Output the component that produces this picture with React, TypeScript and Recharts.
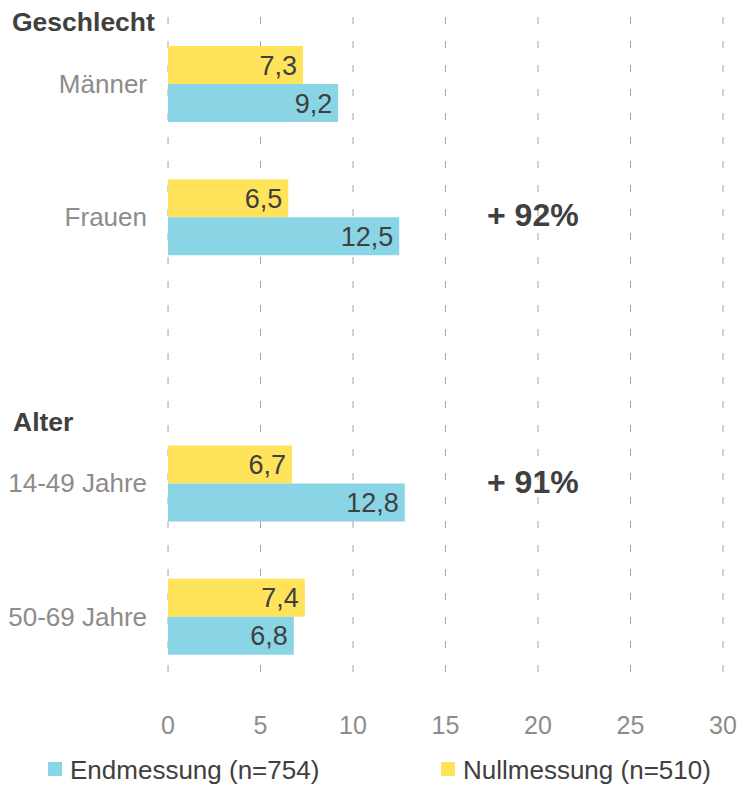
import { Bar, BarChart, CartesianGrid, LabelList, XAxis, YAxis } from "recharts";

const CATEGORIES = ["Männer", "Frauen", "", "14-49 Jahre", "50-69 Jahre"];
const NULLMESSUNG = [7.3, 6.5, null, 6.7, 7.4];
const ENDMESSUNG = [9.2, 12.5, null, 12.8, 6.8];
const X_TICKS = [0, 5, 10, 15, 20, 25, 30];

const YELLOW = "#FFE35B";
const BLUE = "#8AD5E5";
const DARK = "#404040";
const GREY = "#8C8C8C";
const FONT = "'Liberation Sans', Arial, sans-serif";

const data = CATEGORIES.map((name, i) => ({
  name,
  nullmessung: NULLMESSUNG[i],
  endmessung: ENDMESSUNG[i],
}));

const fmt = (v: unknown) =>
  typeof v === "number" ? v.toFixed(1).replace(".", ",") : "";

export default function App() {
  return (
    <div
      style={{
        position: "absolute",
        left: 0,
        top: 0,
        width: 743,
        height: 792,
        background: "#fff",
        fontFamily: FONT,
      }}
    >
      <BarChart
        width={743}
        height={745}
        data={data}
        layout="vertical"
        margin={{ top: 17, right: 20, bottom: 2, left: 0 }}
        barSize={38}
        barGap={0}
      >
        <CartesianGrid
          horizontal={false}
          stroke="#A6A6A6"
          strokeDasharray="7 17"
        />
        <XAxis
          type="number"
          domain={[0, 30]}
          ticks={X_TICKS}
          axisLine={false}
          tickLine={false}
          tickSize={0}
          tickMargin={33}
          height={60}
          tick={{ fill: GREY, fontSize: 25, fontFamily: FONT }}
        />
        <YAxis
          type="category"
          dataKey="name"
          width={168}
          axisLine={false}
          tickLine={false}
          tickSize={0}
          tickMargin={21}
          tick={{ fill: GREY, fontSize: 26, fontFamily: FONT }}
        />
        <Bar dataKey="nullmessung" fill={YELLOW} isAnimationActive={false}>
          <LabelList
            dataKey="nullmessung"
            position="insideRight"
            offset={6}
            formatter={fmt}
            fill={DARK}
            fontSize={27}
            fontFamily={FONT}
          />
        </Bar>
        <Bar dataKey="endmessung" fill={BLUE} isAnimationActive={false}>
          <LabelList
            dataKey="endmessung"
            position="insideRight"
            offset={6}
            formatter={fmt}
            fill={DARK}
            fontSize={27}
            fontFamily={FONT}
          />
        </Bar>
      </BarChart>

      <svg
        width={743}
        height={792}
        style={{ position: "absolute", left: 0, top: 0, pointerEvents: "none" }}
        fontFamily={FONT}
      >
        <text x={12} y={31} fontSize={26.5} fontWeight="bold" fill={DARK}>
          Geschlecht
        </text>
        <text x={13} y={431} fontSize={26.5} fontWeight="bold" fill={DARK}>
          Alter
        </text>
        <text x={487} y={226} fontSize={32} fontWeight="bold" fill={DARK}>
          + 92%
        </text>
        <text x={487} y={493} fontSize={32} fontWeight="bold" fill={DARK}>
          + 91%
        </text>

        <rect x={48} y={762} width={14} height={14} fill={BLUE} />
        <text x={70} y={779} fontSize={26} fill={DARK}>
          Endmessung (n=754)
        </text>
        <rect x={441} y={762} width={14} height={14} fill={YELLOW} />
        <text x={463} y={779} fontSize={26} fill={DARK}>
          Nullmessung (n=510)
        </text>
      </svg>
    </div>
  );
}
